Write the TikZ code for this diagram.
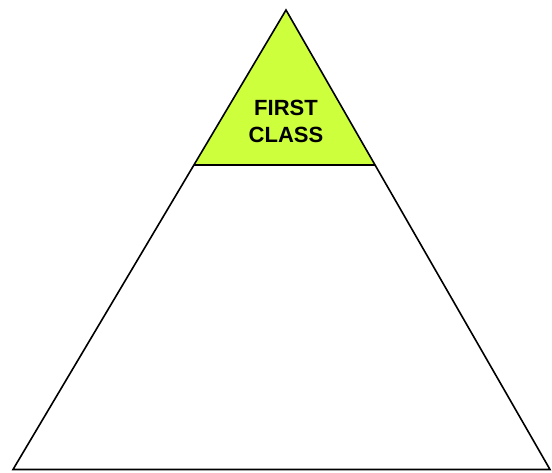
\documentclass[tikz,border=0pt]{standalone}
\usepackage{fontspec}
\setmainfont{Liberation Sans}
\usetikzlibrary{calc}
\definecolor{lime}{RGB}{206,255,60}
\begin{document}
\begin{tikzpicture}[x=1pt,y=-1pt,
  edge/.style={draw=black,line width=1.6pt,line join=miter},
  label/.style={font=\bfseries\fontsize{22}{27}\selectfont,align=center,inner sep=0pt}]
\useasboundingbox (0,0) rectangle (552,472);
\coordinate (apex) at (286,10);
\coordinate (bl) at (13,469.5);
\coordinate (br) at (550,469.5);
\coordinate (cl) at ($(apex)!0.3373!(bl)$);
\coordinate (cr) at ($(apex)!0.3373!(br)$);
\fill[lime] (apex) -- (cl) -- (cr) -- cycle;
\draw[edge] (apex) -- (bl) -- (br) -- cycle;
\draw[edge] (cl) -- (cr);
\node[label] (fc) at (286,121) {FIRST\\CLASS};
\end{tikzpicture}
\end{document}
